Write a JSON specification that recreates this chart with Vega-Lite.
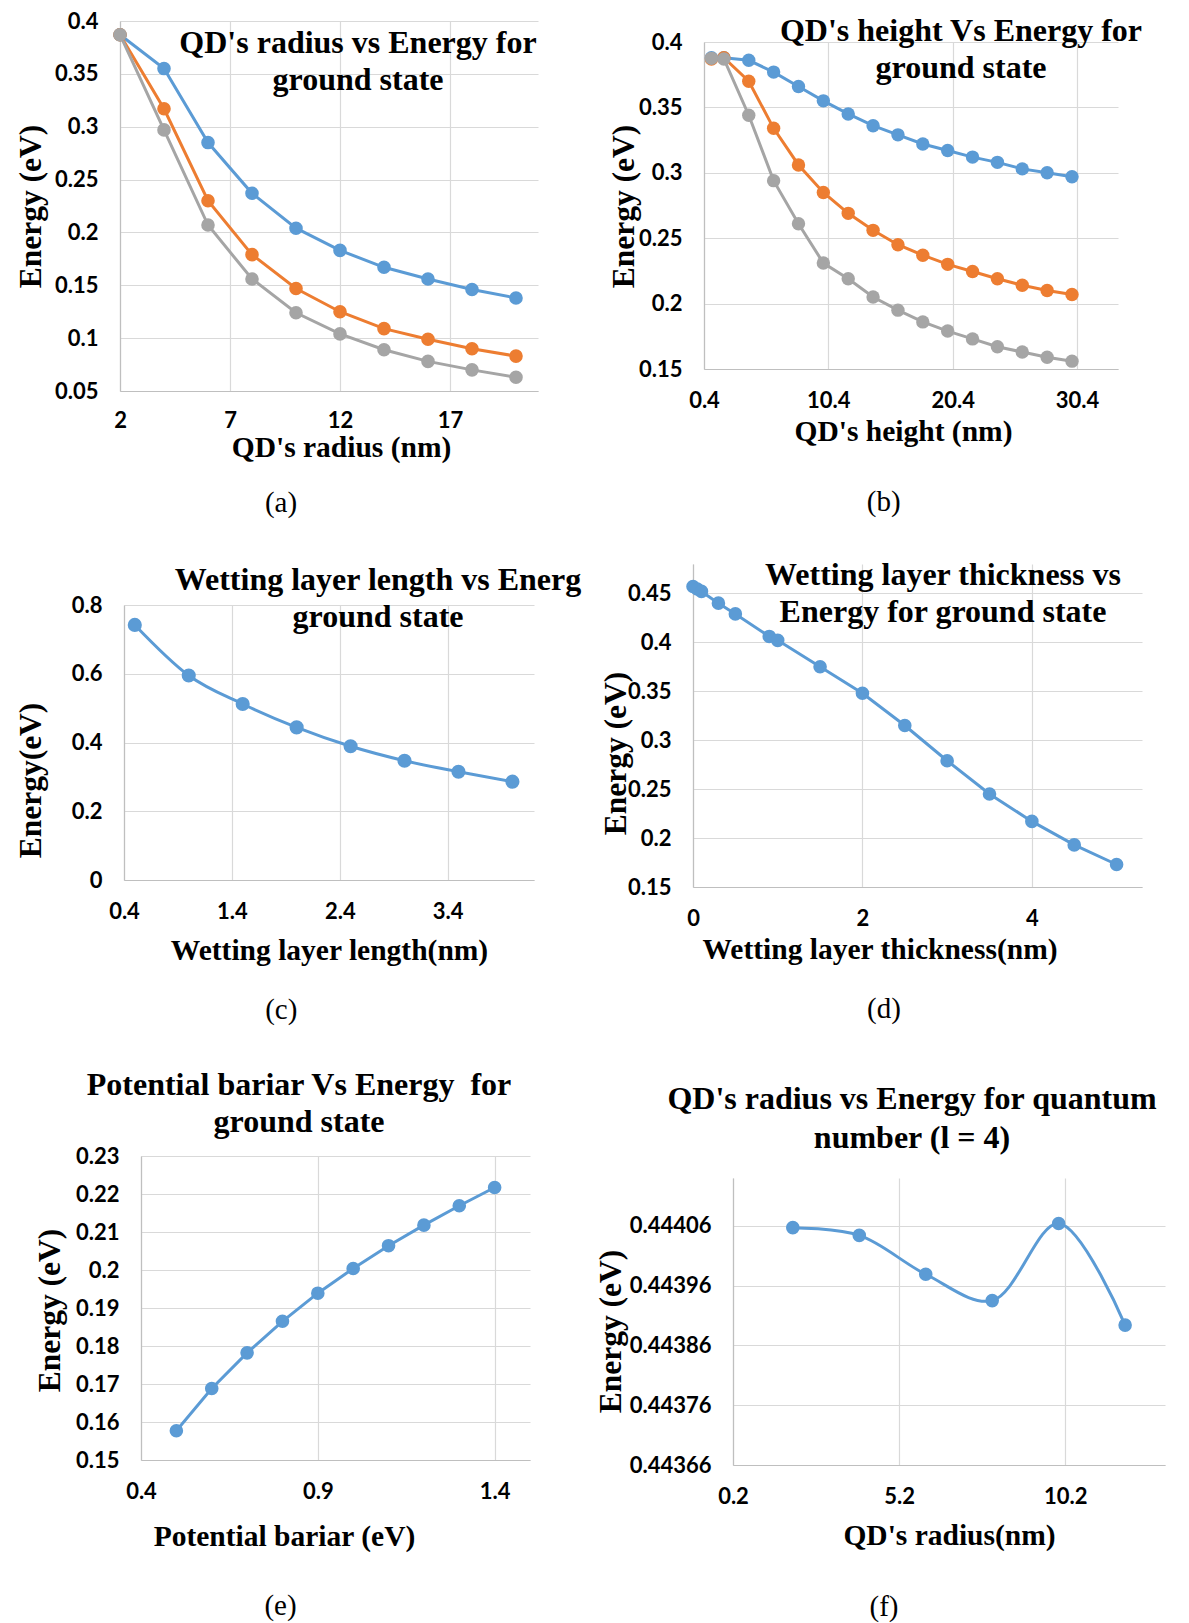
{
  "$schema": "https://vega.github.io/schema/vega-lite/v6.json",
  "background": "#ffffff",
  "padding": {"left": 3, "top": 9, "right": 5, "bottom": 5},
  "config": {
    "view": {"stroke": null},
    "font": "Liberation Serif",
    "axis": {
      "labelFont": "Lato", "labelFontWeight": "bold", "labelFontSize": 22, "labelColor": "#000000",
      "titleFont": "Liberation Serif", "titleFontWeight": "bold", "titleFontSize": 29.5, "titleColor": "#000000",
      "titleBaseline": "middle",
      "gridColor": "#D9D9D9", "gridWidth": 1.2, "domainColor": "#BFBFBF", "domainWidth": 1.2,
      "ticks": false, "tickSize": 0, "labelFlush": false, "labelOverlap": false
    },
    "axisX": {"labelPadding": 21},
    "axisY": {"labelPadding": 22, "titleFontSize": 31.5},
    "title": {"font": "Liberation Serif", "fontWeight": "bold", "fontSize": 32, "color": "#000000", "lineHeight": 37, "baseline": "middle", "anchor": "middle", "frame": "group"}
  },
  "datasets": {
    "a": [
      {"x": 2, "y": 0.387, "s": "Series1"}, {"x": 4, "y": 0.355, "s": "Series1"}, {"x": 6, "y": 0.285, "s": "Series1"}, {"x": 8, "y": 0.237, "s": "Series1"}, {"x": 10, "y": 0.204, "s": "Series1"}, {"x": 12, "y": 0.183, "s": "Series1"}, {"x": 14, "y": 0.167, "s": "Series1"}, {"x": 16, "y": 0.156, "s": "Series1"}, {"x": 18, "y": 0.146, "s": "Series1"}, {"x": 20, "y": 0.138, "s": "Series1"},
      {"x": 2, "y": 0.387, "s": "Series2"}, {"x": 4, "y": 0.317, "s": "Series2"}, {"x": 6, "y": 0.230, "s": "Series2"}, {"x": 8, "y": 0.179, "s": "Series2"}, {"x": 10, "y": 0.147, "s": "Series2"}, {"x": 12, "y": 0.125, "s": "Series2"}, {"x": 14, "y": 0.109, "s": "Series2"}, {"x": 16, "y": 0.099, "s": "Series2"}, {"x": 18, "y": 0.090, "s": "Series2"}, {"x": 20, "y": 0.083, "s": "Series2"},
      {"x": 2, "y": 0.387, "s": "Series3"}, {"x": 4, "y": 0.297, "s": "Series3"}, {"x": 6, "y": 0.207, "s": "Series3"}, {"x": 8, "y": 0.156, "s": "Series3"}, {"x": 10, "y": 0.124, "s": "Series3"}, {"x": 12, "y": 0.104, "s": "Series3"}, {"x": 14, "y": 0.089, "s": "Series3"}, {"x": 16, "y": 0.078, "s": "Series3"}, {"x": 18, "y": 0.070, "s": "Series3"}, {"x": 20, "y": 0.063, "s": "Series3"}
    ],
    "b": [
      {"x": 1, "y": 0.388, "s": "Series1"}, {"x": 2, "y": 0.388, "s": "Series1"}, {"x": 4, "y": 0.386, "s": "Series1"}, {"x": 6, "y": 0.377, "s": "Series1"}, {"x": 8, "y": 0.366, "s": "Series1"}, {"x": 10, "y": 0.355, "s": "Series1"}, {"x": 12, "y": 0.345, "s": "Series1"}, {"x": 14, "y": 0.336, "s": "Series1"}, {"x": 16, "y": 0.329, "s": "Series1"}, {"x": 18, "y": 0.322, "s": "Series1"}, {"x": 20, "y": 0.317, "s": "Series1"}, {"x": 22, "y": 0.312, "s": "Series1"}, {"x": 24, "y": 0.308, "s": "Series1"}, {"x": 26, "y": 0.303, "s": "Series1"}, {"x": 28, "y": 0.300, "s": "Series1"}, {"x": 30, "y": 0.297, "s": "Series1"},
      {"x": 1, "y": 0.387, "s": "Series2"}, {"x": 2, "y": 0.388, "s": "Series2"}, {"x": 4, "y": 0.370, "s": "Series2"}, {"x": 6, "y": 0.334, "s": "Series2"}, {"x": 8, "y": 0.306, "s": "Series2"}, {"x": 10, "y": 0.285, "s": "Series2"}, {"x": 12, "y": 0.269, "s": "Series2"}, {"x": 14, "y": 0.256, "s": "Series2"}, {"x": 16, "y": 0.245, "s": "Series2"}, {"x": 18, "y": 0.237, "s": "Series2"}, {"x": 20, "y": 0.230, "s": "Series2"}, {"x": 22, "y": 0.2245, "s": "Series2"}, {"x": 24, "y": 0.219, "s": "Series2"}, {"x": 26, "y": 0.214, "s": "Series2"}, {"x": 28, "y": 0.210, "s": "Series2"}, {"x": 30, "y": 0.207, "s": "Series2"},
      {"x": 1, "y": 0.3875, "s": "Series3"}, {"x": 2, "y": 0.387, "s": "Series3"}, {"x": 4, "y": 0.344, "s": "Series3"}, {"x": 6, "y": 0.294, "s": "Series3"}, {"x": 8, "y": 0.261, "s": "Series3"}, {"x": 10, "y": 0.231, "s": "Series3"}, {"x": 12, "y": 0.219, "s": "Series3"}, {"x": 14, "y": 0.205, "s": "Series3"}, {"x": 16, "y": 0.195, "s": "Series3"}, {"x": 18, "y": 0.186, "s": "Series3"}, {"x": 20, "y": 0.179, "s": "Series3"}, {"x": 22, "y": 0.173, "s": "Series3"}, {"x": 24, "y": 0.167, "s": "Series3"}, {"x": 26, "y": 0.163, "s": "Series3"}, {"x": 28, "y": 0.159, "s": "Series3"}, {"x": 30, "y": 0.156, "s": "Series3"}
    ],
    "c": [
      {"x": 0.5, "y": 0.742}, {"x": 1, "y": 0.595}, {"x": 1.5, "y": 0.512}, {"x": 2, "y": 0.444}, {"x": 2.5, "y": 0.389}, {"x": 3, "y": 0.347}, {"x": 3.5, "y": 0.315}, {"x": 4, "y": 0.286}
    ],
    "d": [
      {"x": 0, "y": 0.457}, {"x": 0.05, "y": 0.4545}, {"x": 0.1, "y": 0.452}, {"x": 0.3, "y": 0.440}, {"x": 0.5, "y": 0.429}, {"x": 0.9, "y": 0.406}, {"x": 1, "y": 0.402}, {"x": 1.5, "y": 0.375}, {"x": 2, "y": 0.348}, {"x": 2.5, "y": 0.315}, {"x": 3, "y": 0.279}, {"x": 3.5, "y": 0.245}, {"x": 4, "y": 0.217}, {"x": 4.5, "y": 0.193}, {"x": 5, "y": 0.173}
    ],
    "e": [
      {"x": 0.5, "y": 0.1577}, {"x": 0.6, "y": 0.1688}, {"x": 0.7, "y": 0.1782}, {"x": 0.8, "y": 0.1865}, {"x": 0.9, "y": 0.1939}, {"x": 1.0, "y": 0.2004}, {"x": 1.1, "y": 0.2064}, {"x": 1.2, "y": 0.2118}, {"x": 1.3, "y": 0.2169}, {"x": 1.4, "y": 0.2217}
    ],
    "f": [
      {"x": 2, "y": 0.444057}, {"x": 4, "y": 0.444044}, {"x": 6, "y": 0.443979}, {"x": 8, "y": 0.443935}, {"x": 10, "y": 0.444064}, {"x": 12, "y": 0.443894}
    ],
    "none": []
  },
  "columns": 3,
  "align": "none",
  "spacing": {"row": 0, "column": 4},
  "concat": [
    {"width": 1, "height": 1, "data": {"name": "none"}, "mark": "point", "encoding": {}},
    {"width": 1, "height": 1, "data": {"name": "none"}, "mark": "point", "encoding": {}},
    {"width": 1, "height": 1, "data": {"name": "none"}, "mark": "point", "encoding": {}},
    {"width": 1, "height": 1, "data": {"name": "none"}, "mark": "point", "encoding": {}},
    {
      "columns": 2, "align": "none", "spacing": {"row": 43, "column": 0},
      "concat": [
        {"width": 1, "height": 1, "data": {"name": "none"}, "mark": "point", "encoding": {}},
        {
          "columns": 2, "align": "none", "spacing": {"row": 45, "column": 0},
          "concat": [
            {"width": 1, "height": 1, "data": {"name": "none"}, "mark": "point", "encoding": {}},
            {
              "columns": 1, "align": "none",
              "title": {"text": "(a)", "orient": "bottom", "frame": "bounds", "offset": 27.4, "dx": 7, "fontWeight": "normal", "fontSize": 29, "lineHeight": 29},
              "concat": [
                {
                  "data": {"name": "a"},
                  "width": 418, "height": 370,
                  "title": {"text": ["QD's radius vs Energy for", "ground state"], "offset": -87.4, "dx": 29},
                  "mark": {"type": "line", "strokeWidth": 3, "point": {"filled": true, "size": 185}},
                  "encoding": {
                    "x": {"field": "x", "type": "quantitative", "scale": {"domain": [2, 21], "nice": false, "zero": false},
                      "axis": {"values": [2, 7, 12, 17], "format": ".6~g", "title": "QD's radius (nm)", "titleX": 221, "titleY": 56.5, "labelPadding": 19.5}},
                    "y": {"field": "y", "type": "quantitative", "scale": {"domain": [0.05, 0.4], "nice": false, "zero": false},
                      "axis": {"values": [0.05, 0.1, 0.15, 0.2, 0.25, 0.3, 0.35, 0.4], "format": ".6~g", "title": "Energy (eV)", "titleX": -89, "titleY": 185, "minExtent": 110, "maxExtent": 110}},
                    "color": {"field": "s", "type": "nominal", "scale": {"domain": ["Series1", "Series2", "Series3"], "range": ["#5B9BD5", "#ED7D31", "#A5A5A5"]}, "legend": null}
                  }
                }
              ]
            },
            {"width": 1, "height": 1, "data": {"name": "none"}, "mark": "point", "encoding": {}},
            {
              "columns": 1, "align": "none",
              "title": {"text": "(c)", "orient": "bottom", "frame": "bounds", "offset": 31.4, "dx": -14.5, "fontWeight": "normal", "fontSize": 29, "lineHeight": 29},
              "concat": [
                {
                  "data": {"name": "c"},
                  "width": 410, "height": 275,
                  "title": {"text": ["Wetting layer length vs Energ", "ground state"], "offset": -40.4, "dx": 49},
                  "mark": {"type": "line", "strokeWidth": 3, "color": "#5B9BD5", "interpolate": "monotone", "point": {"filled": true, "size": 200, "color": "#5B9BD5"}},
                  "encoding": {
                    "x": {"field": "x", "type": "quantitative", "scale": {"domain": [0.4, 4.2], "nice": false, "zero": false},
                      "axis": {"values": [0.4, 1.4, 2.4, 3.4], "format": ".6~g", "title": "Wetting layer length(nm)", "titleX": 205, "titleY": 70.5}},
                    "y": {"field": "y", "type": "quantitative", "scale": {"domain": [0, 0.8], "nice": false, "zero": false},
                      "axis": {"values": [0, 0.2, 0.4, 0.6, 0.8], "format": ".6~g", "title": "Energy(eV)", "titleX": -93, "titleY": 175, "minExtent": 114, "maxExtent": 114}}
                  }
                }
              ]
            }
          ]
        },
        {"width": 1, "height": 1, "data": {"name": "none"}, "mark": "point", "encoding": {}},
        {
          "columns": 1, "align": "none",
          "title": {"text": "(e)", "orient": "bottom", "frame": "bounds", "offset": 41.4, "dx": 11, "fontWeight": "normal", "fontSize": 29, "lineHeight": 29},
          "concat": [
            {
              "data": {"name": "e"},
              "width": 389, "height": 304,
              "title": {"text": ["Potential bariar Vs Energy\u00a0 for", "ground state"], "offset": 5.6, "dx": -36.5},
              "mark": {"type": "line", "strokeWidth": 3, "color": "#5B9BD5", "point": {"filled": true, "size": 185, "color": "#5B9BD5"}},
              "encoding": {
                "x": {"field": "x", "type": "quantitative", "scale": {"domain": [0.4, 1.5], "nice": false, "zero": false},
                  "axis": {"values": [0.4, 0.9, 1.4], "format": ".6~g", "title": "Potential bariar (eV)", "titleX": 143, "titleY": 76.5}},
                "y": {"field": "y", "type": "quantitative", "scale": {"domain": [0.15, 0.23], "nice": false, "zero": false},
                  "axis": {"values": [0.15, 0.16, 0.17, 0.18, 0.19, 0.2, 0.21, 0.22, 0.23], "format": ".6~g", "title": "Energy (eV)", "titleX": -91, "titleY": 154, "minExtent": 132, "maxExtent": 132}}
              }
            }
          ]
        }
      ]
    },
    {
      "columns": 2, "align": "none", "spacing": {"row": 0, "column": 0},
      "concat": [
        {"width": 1, "height": 1, "data": {"name": "none"}, "mark": "point", "encoding": {}},
        {"width": 1, "height": 5, "data": {"name": "none"}, "mark": "point", "encoding": {}},
        {"width": 1, "height": 1, "data": {"name": "none"}, "mark": "point", "encoding": {}},
        {
          "columns": 2, "align": "none", "spacing": {"row": 58, "column": 0},
          "concat": [
            {"width": 1, "height": 1, "data": {"name": "none"}, "mark": "point", "encoding": {}},
            {
              "columns": 2, "align": "none", "spacing": {"row": 41, "column": 0},
              "concat": [
                {"width": 1, "height": 1, "data": {"name": "none"}, "mark": "point", "encoding": {}},
                {
                  "columns": 1, "align": "none",
                  "title": {"text": "(b)", "orient": "bottom", "frame": "bounds", "offset": 42.9, "dx": 18, "fontWeight": "normal", "fontSize": 29, "lineHeight": 29},
                  "concat": [
                    {
                      "data": {"name": "b"},
                      "width": 414, "height": 327,
                      "title": {"text": ["QD's height Vs Energy for", "ground state"], "offset": -54.4, "dx": 50},
                      "mark": {"type": "line", "strokeWidth": 3, "point": {"filled": true, "size": 180}},
                      "encoding": {
                        "x": {"field": "x", "type": "quantitative", "scale": {"domain": [0.4, 33.7], "nice": false, "zero": false},
                          "axis": {"values": [0.4, 10.4, 20.4, 30.4], "format": ".6~g", "title": "QD's height (nm)", "titleX": 199, "titleY": 62}},
                        "y": {"field": "y", "type": "quantitative", "scale": {"domain": [0.15, 0.4], "nice": false, "zero": false},
                          "axis": {"values": [0.15, 0.2, 0.25, 0.3, 0.35, 0.4], "format": ".6~g", "title": "Energy (eV)", "titleX": -80, "titleY": 164, "minExtent": 115, "maxExtent": 115}},
                        "color": {"field": "s", "type": "nominal", "scale": {"domain": ["Series1", "Series2", "Series3"], "range": ["#5B9BD5", "#ED7D31", "#A5A5A5"]}, "legend": null}
                      }
                    }
                  ]
                },
                {"width": 1, "height": 1, "data": {"name": "none"}, "mark": "point", "encoding": {}},
                {
                  "columns": 1, "align": "none",
                  "title": {"text": "(d)", "orient": "bottom", "frame": "bounds", "offset": 31.4, "dx": 18.5, "fontWeight": "normal", "fontSize": 29, "lineHeight": 29},
                  "concat": [
                    {
                      "data": {"name": "d"},
                      "width": 449, "height": 323,
                      "title": {"text": ["Wetting layer thickness vs", "Energy for ground state"], "offset": -65.4, "dx": 25.5},
                      "mark": {"type": "line", "strokeWidth": 3, "color": "#5B9BD5", "point": {"filled": true, "size": 185, "color": "#5B9BD5"}},
                      "encoding": {
                        "x": {"field": "x", "type": "quantitative", "scale": {"domain": [0, 5.3], "nice": false, "zero": false},
                          "axis": {"values": [0, 2, 4], "format": ".6~g", "title": "Wetting layer thickness(nm)", "titleX": 186.5, "titleY": 62.5}},
                        "y": {"field": "y", "type": "quantitative", "scale": {"domain": [0.15, 0.48], "nice": false, "zero": false},
                          "axis": {"values": [0.15, 0.2, 0.25, 0.3, 0.35, 0.4, 0.45], "format": ".6~g", "title": "Energy (eV)", "titleX": -77, "titleY": 189, "minExtent": 104, "maxExtent": 104}}
                      }
                    }
                  ]
                }
              ]
            },
            {"width": 1, "height": 1, "data": {"name": "none"}, "mark": "point", "encoding": {}},
            {
              "columns": 1, "align": "none",
              "title": {"text": "(f)", "orient": "bottom", "frame": "bounds", "offset": 43.4, "dx": 7.5, "fontWeight": "normal", "fontSize": 29, "lineHeight": 29},
              "concat": [
                {
                  "data": {"name": "f"},
                  "width": 432, "height": 287,
                  "title": {"text": ["QD's radius vs Energy for quantum", "number (l = 4)"], "offset": 22.6, "dx": -37, "lineHeight": 39},
                  "mark": {"type": "line", "strokeWidth": 3, "color": "#5B9BD5", "interpolate": "catmull-rom", "point": {"filled": true, "size": 185, "color": "#5B9BD5"}},
                  "encoding": {
                    "x": {"field": "x", "type": "quantitative", "scale": {"domain": [0.2, 13.2], "nice": false, "zero": false},
                      "axis": {"values": [0.2, 5.2, 10.2], "format": ".6~g", "title": "QD's radius(nm)", "titleX": 216, "titleY": 70.5}},
                    "y": {"field": "y", "type": "quantitative", "scale": {"domain": [0.44366, 0.44414], "nice": false, "zero": false},
                      "axis": {"values": [0.44366, 0.44376, 0.44386, 0.44396, 0.44406], "format": ".6~g", "title": "Energy (eV)", "titleX": -122, "titleY": 153, "minExtent": 145, "maxExtent": 145}}
                  }
                }
              ]
            }
          ]
        }
      ]
    }
  ]
}
